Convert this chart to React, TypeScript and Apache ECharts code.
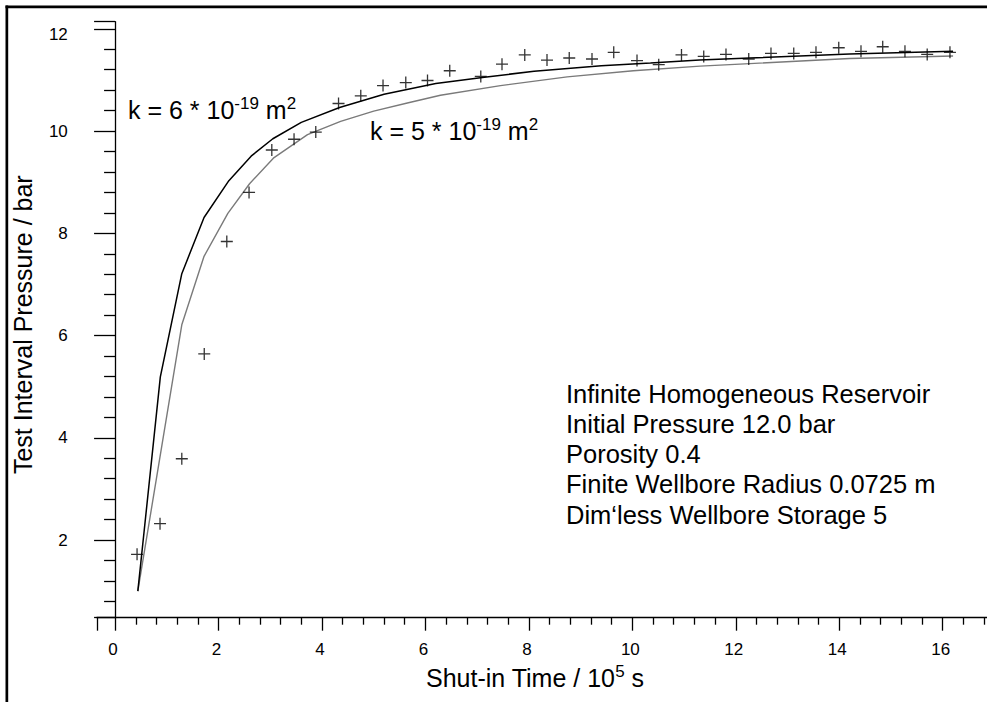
import React, { useEffect, useRef } from "react";
import * as echarts from "echarts";

// Measured shut-in pressures (time in 10^5 s, pressure in bar)
const measTime = [0.425, 0.869, 1.29, 1.724, 2.16, 2.59, 3.03, 3.46, 3.88, 4.32, 4.75, 5.18, 5.62, 6.04, 6.47, 7.07, 7.48, 7.92, 8.35, 8.78, 9.22, 9.64, 10.09, 10.51, 10.95, 11.38, 11.81, 12.25, 12.68, 13.12, 13.55, 13.99, 14.42, 14.84, 15.27, 15.7, 16.14];
const measPressure = [1.72, 2.32, 3.59, 5.64, 7.84, 8.8, 9.63, 9.84, 9.98, 10.54, 10.69, 10.89, 10.95, 10.99, 11.18, 11.07, 11.31, 11.49, 11.39, 11.43, 11.41, 11.54, 11.38, 11.3, 11.49, 11.46, 11.5, 11.41, 11.52, 11.52, 11.54, 11.63, 11.56, 11.65, 11.56, 11.5, 11.54];

// Model k = 6e-19 m2
const k6Time = [0.44, 0.875, 1.29, 1.72, 2.2, 2.63, 3.05, 3.6, 4.34, 5.2, 6.2, 7.1, 8.1, 9.4, 10.35, 11.3, 12.27, 14.2, 16.2];
const k6Pressure = [1.0, 5.19, 7.21, 8.31, 9.03, 9.51, 9.85, 10.17, 10.46, 10.72, 10.93, 11.05, 11.17, 11.28, 11.33, 11.39, 11.43, 11.51, 11.56];

// Model k = 5e-19 m2
const k5Time = [0.44, 1.29, 1.72, 2.18, 2.6, 3.06, 3.72, 4.36, 5.0, 5.65, 6.29, 7.45, 8.74, 10.02, 11.31, 12.27, 14.2, 16.2];
const k5Pressure = [1.0, 6.21, 7.55, 8.39, 8.97, 9.47, 9.93, 10.19, 10.39, 10.55, 10.7, 10.89, 11.06, 11.18, 11.27, 11.32, 11.42, 11.47];

// Axis ticks
const X_MIN = -0.353;
const X_MAX = 16.856;
const Y_MIN = 0.48;
const Y_MAX = 12.14;
const xMajor = [0, 2, 4, 6, 8, 10, 12, 14, 16];
const xMinor = [0.4, 0.8, 1.2, 1.6, 2.4, 2.8, 3.2, 3.6, 4.4, 4.8, 5.2, 5.6, 6.4, 6.8, 7.2, 7.6, 8.4, 8.8, 9.2, 9.6, 10.4, 10.8, 11.2, 11.6, 12.4, 12.8, 13.2, 13.6, 14.4, 14.8, 15.2, 15.6, 16.4, 16.8];
const yMajor = [2, 4, 6, 8, 10, 12];
const yMinor = [0.8, 1.2, 1.6, 2.4, 2.8, 3.2, 3.6, 4.4, 4.8, 5.2, 5.6, 6.4, 6.8, 7.2, 7.6, 8.4, 8.8, 9.2, 9.6, 10.4, 10.8, 11.2, 11.6];

const infoLines = [
  "Infinite Homogeneous Reservoir",
  "Initial Pressure 12.0 bar",
  "Porosity 0.4",
  "Finite Wellbore Radius 0.0725 m",
  "Dim\u2018less Wellbore Storage 5",
];

const FONT = '"Liberation Sans", Arial, Helvetica, sans-serif';

const zip = (a: number[], b: number[]) => a.map((v, i) => [v, b[i]]);

export default function App() {
  const ref = useRef<HTMLDivElement>(null);
  useEffect(() => {
    if (!ref.current) return;
    const chart = echarts.init(ref.current, null, { renderer: "svg" });
    const supRich = {
      sup: { fontSize: 17, lineHeight: 26, verticalAlign: "top", fontFamily: FONT, color: "#000" },
    };
    const axisCommon = {
      type: "value",
      splitLine: { show: false },
      axisLine: { show: true, lineStyle: { color: "#000", width: 1.3 } },
    };
    const mkText = (x: number, y: number, text: string, size: number, rich = false) => ({
      type: "text",
      x,
      y,
      silent: true,
      style: {
        text,
        fill: "#000",
        fontSize: size,
        fontFamily: FONT,
        lineHeight: 30,
        align: "left",
        verticalAlign: "middle",
        rich: rich ? supRich : undefined,
      },
    });
    const option: any = {
      animation: false,
      backgroundColor: "#fff",
      grid: { left: 95.7, top: 21.7, right: 0, bottom: 84.3, containLabel: false },
      xAxis: [
        {
          ...axisCommon,
          min: X_MIN,
          max: X_MAX,
          position: "bottom",
          name: "Shut-in Time / 10{sup|5} s",
          nameLocation: "middle",
          nameGap: 45,
          nameTextStyle: {
            fontSize: 25,
            fontFamily: FONT,
            color: "#000",
            lineHeight: 30,
            padding: [0, 14, 0, 0],
            rich: supRich,
          },
          axisTick: {
            show: true,
            customValues: [X_MIN, ...xMajor],
            length: 13,
            inside: false,
            lineStyle: { color: "#000", width: 1.3 },
          },
          axisLabel: {
            show: true,
            customValues: xMajor,
            margin: 23,
            fontSize: 17,
            fontFamily: FONT,
            color: "#000",
            padding: [0, 4, 0, 0],
          },
        },
        {
          ...axisCommon,
          min: X_MIN,
          max: X_MAX,
          position: "bottom",
          axisLine: { show: false },
          axisTick: {
            show: true,
            customValues: xMinor,
            length: 7,
            inside: false,
            lineStyle: { color: "#000", width: 1.3 },
          },
          axisLabel: { show: false },
        },
      ],
      yAxis: [
        {
          ...axisCommon,
          min: Y_MIN,
          max: Y_MAX,
          position: "left",
          name: "Test Interval Pressure / bar",
          nameLocation: "middle",
          nameRotate: 90,
          nameGap: 50,
          nameTextStyle: {
            fontSize: 25,
            fontFamily: FONT,
            color: "#000",
            lineHeight: 30,
            padding: [0, 10, 0, 0],
          },
          axisTick: {
            show: true,
            customValues: [Y_MIN, ...yMajor, Y_MAX],
            length: 21,
            inside: false,
            lineStyle: { color: "#000", width: 1.3 },
          },
          axisLabel: {
            show: true,
            customValues: yMajor,
            margin: 29,
            fontSize: 17,
            fontFamily: FONT,
            color: "#000",
            formatter: (v: number) => (v === 12 ? "{d|12}" : String(v)),
            rich: { d: { fontSize: 17, fontFamily: FONT, color: "#000", padding: [12, 0, 0, 0] } },
          },
        },
        {
          ...axisCommon,
          min: Y_MIN,
          max: Y_MAX,
          position: "left",
          axisLine: { show: false },
          axisTick: {
            show: true,
            customValues: yMinor,
            length: 11,
            inside: false,
            lineStyle: { color: "#000", width: 1.3 },
          },
          axisLabel: { show: false },
        },
      ],
      series: [
        {
          type: "line",
          name: "k5",
          data: zip(k5Time, k5Pressure),
          showSymbol: false,
          symbol: "none",
          smooth: false,
          lineStyle: { color: "#7a7a7a", width: 1.4 },
          z: 2,
        },
        {
          type: "line",
          name: "k6",
          data: zip(k6Time, k6Pressure),
          showSymbol: false,
          symbol: "none",
          smooth: false,
          lineStyle: { color: "#000", width: 1.5 },
          z: 3,
        },
        {
          type: "scatter",
          name: "measured",
          data: zip(measTime, measPressure),
          symbol: "path://M6,0L6,12M0,6L12,6",
          symbolSize: 12,
          itemStyle: { color: "none", borderColor: "#000", borderWidth: 1.3 },
          z: 4,
        },
      ],
      graphic: [
        { type: "rect", silent: true, shape: { x: 5.5, y: 5.5, width: 2.7, height: 697 }, style: { fill: "#000" } },
        { type: "rect", silent: true, shape: { x: 5.5, y: 5.5, width: 982, height: 2.7 }, style: { fill: "#000" } },
        mkText(128, 109.6, "k = 6 * 10{sup|-19} m{sup|2}", 25, true),
        mkText(370, 130.6, "k = 5 * 10{sup|-19} m{sup|2}", 25, true),
        ...infoLines.map((t, i) => mkText(566, 393.8 + i * 30.2, t, 25.5)),
      ],
    };
    chart.setOption(option);
    return () => chart.dispose();
  }, []);
  return (
    <div
      ref={ref}
      style={{ position: "fixed", left: 0, top: 0, width: 987, height: 702, background: "#fff" }}
    />
  );
}
